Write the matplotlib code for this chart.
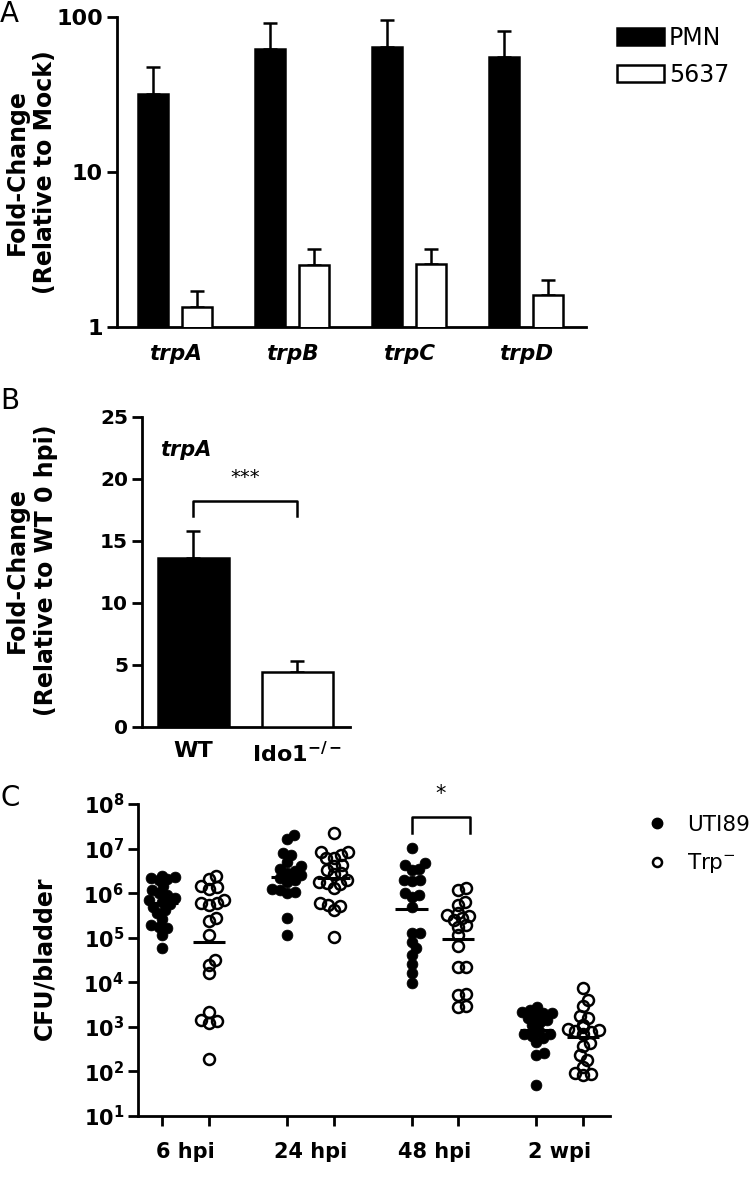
import matplotlib
matplotlib.use("Agg")
import matplotlib.pyplot as plt
import numpy as np
from matplotlib.patches import Patch
from matplotlib.lines import Line2D
from matplotlib.ticker import NullLocator

plt.rcParams['font.family'] = ['DejaVu Sans']
plt.rcParams['axes.linewidth'] = 2.0

# ---- Panel A: fold change vs mock (log scale) ----
genes = ['trpA', 'trpB', 'trpC', 'trpD']
pmn_fold = [32, 62, 64, 55]
pmn_err = [15.6, 30, 31, 26]
c5637_fold = [1.35, 2.51, 2.55, 1.61]
c5637_err = [0.36, 0.67, 0.65, 0.39]

# ---- Panel B: trpA, WT vs Ido1-/- ----
b_groups = ['WT', r'Ido1$^{\mathbf{-/-}}$']
b_fold = [13.65, 4.4]
b_err = [2.15, 0.9]

# ---- Panel C: CFU/bladder (log10 values) ----
timepoints = ['6 hpi', '24 hpi', '48 hpi', '2 wpi']
uti89_6hpi = [6.31, 6.38, 6.36, 6.33, 6.30, 6.15, 6.07, 6.00, 5.95, 5.90, 5.85,
              5.80, 5.75, 5.70, 5.62, 5.55, 5.41, 5.25, 5.21, 5.29, 5.06, 4.78]
trp_6hpi = [6.31, 6.385, 6.13, 6.16, 6.10, 5.79, 5.73, 5.77, 5.85, 5.38, 5.44,
            5.06, 4.50, 4.39, 4.20, 3.34, 3.13, 3.09, 3.15, 2.29]
uti89_24hpi = [7.30, 7.21, 6.89, 6.86, 6.70, 6.60, 6.55, 6.50, 6.45, 6.40, 6.35,
               6.30, 6.25, 6.03, 6.00, 6.07, 6.10, 5.44, 5.06]
trp_24hpi = [7.36, 6.93, 6.93, 6.85, 6.78, 6.78, 6.63, 6.60, 6.52, 6.45, 6.42,
             6.30, 6.25, 6.22, 6.20, 6.11, 5.77, 5.74, 5.71, 5.62, 5.02]
uti89_48hpi = [7.01, 6.68, 6.63, 6.55, 6.52, 6.30, 6.30, 6.28, 6.01, 5.95, 5.92,
               5.70, 5.10, 5.10, 4.91, 4.76, 4.61, 4.40, 4.20, 3.98]
trp_48hpi = [6.07, 6.11, 5.81, 5.73, 5.55, 5.50, 5.48, 5.45, 5.40, 5.29, 5.25,
             5.06, 4.81, 4.35, 4.35, 3.71, 3.74, 3.47, 3.45]
uti89_2wpi = [3.45, 3.38, 3.33, 3.30, 3.30, 3.25, 3.20, 3.15, 3.10, 3.05, 2.90,
              2.85, 2.90, 2.85, 2.80, 2.75, 2.65, 2.41, 2.37, 1.70]
trp_2wpi = [3.87, 3.60, 3.47, 3.24, 3.19, 3.05, 3.00, 2.95, 2.93, 2.90, 2.88,
            2.85, 2.63, 2.56, 2.37, 2.26, 1.96, 1.94, 1.92, 2.10]
uti89_log = [uti89_6hpi, uti89_24hpi, uti89_48hpi, uti89_2wpi]
trp_log = [trp_6hpi, trp_24hpi, trp_48hpi, trp_2wpi]


def swarm(ypix, d, maxw):
    # simple beeswarm in pixel units, returns x offsets (clipped to +-maxw)
    order = np.argsort(ypix)
    xs = np.zeros(len(ypix))
    placed = []
    for i in order:
        y = ypix[i]
        near = [(px, py) for px, py in placed if abs(py - y) < d]
        cands = [0.0]
        for px, py in near:
            dx = np.sqrt(d * d - (py - y) ** 2)
            cands += [px + dx, px - dx]
        cands.sort(key=abs)
        xs[i] = 0.0
        for c in cands:
            if abs(c) > maxw:
                break
            if all((c - px) ** 2 + (y - py) ** 2 >= d * d - 1e-6 for px, py in near):
                xs[i] = c
                break
        placed.append((xs[i], y))
    return xs


W, H = 756, 1199
fig = plt.figure(figsize=(W / 100, H / 100), dpi=100)

# Panel A
axA = fig.add_axes([117 / W, 1 - 327 / H, 469 / W, 310 / H])
axA.set_yscale('log')
x = np.arange(len(genes))
off, bw = 0.188, 0.256
axA.bar(x - off, pmn_fold, bw, color='black', edgecolor='black', lw=1.8, zorder=3)
axA.bar(x + off, c5637_fold, bw, color='white', edgecolor='black', lw=1.8, zorder=3)
axA.errorbar(x - off, pmn_fold, yerr=[np.zeros(4), pmn_err], fmt='none', ecolor='black',
             elinewidth=1.8, capsize=5, capthick=1.8, zorder=2)
axA.errorbar(x + off, c5637_fold, yerr=[np.zeros(4), c5637_err], fmt='none', ecolor='black',
             elinewidth=1.8, capsize=5, capthick=1.8, zorder=2)
axA.set_ylim(1, 100)
axA.set_xlim(-0.496, 3.51)
axA.set_yticks([1, 10, 100], ['1', '10', '100'], fontsize=16, fontweight='bold')
axA.yaxis.set_minor_locator(NullLocator())
axA.set_xticks(x, genes, fontsize=15.5, fontweight='bold', fontstyle='italic')
axA.tick_params(axis='x', length=0, pad=12)
axA.tick_params(axis='y', length=7, width=2, pad=3)
for s in ['top', 'right']:
    axA.spines[s].set_visible(False)
fig.text(31 / W, 1 - 172 / H, 'Fold-Change\n(Relative to Mock)', rotation=90, ha='center',
         va='center', fontsize=17, fontweight='bold', linespacing=1.25, multialignment='center')
fig.legend(handles=[Patch(facecolor='black', edgecolor='black', lw=1.8),
                    Patch(facecolor='white', edgecolor='black', lw=1.8)],
           labels=['PMN', '5637'], loc='upper left', bbox_to_anchor=(617 / W, 1 - 26 / H),
           frameon=False, fontsize=17, handlelength=2.0, handleheight=0.72,
           handletextpad=0.2, labelspacing=0.55, borderpad=0, borderaxespad=0)

# Panel B
axB = fig.add_axes([142 / W, 1 - 727 / H, 208 / W, 310.3 / H])
xb = np.arange(len(b_groups))
axB.bar(xb, b_fold, 0.69, color=['black', 'white'], edgecolor='black', lw=1.8, zorder=3)
axB.errorbar(xb, b_fold, yerr=[np.zeros(2), b_err], fmt='none', ecolor='black',
             elinewidth=1.8, capsize=5, capthick=1.8, zorder=2)
axB.set_ylim(0, 25)
axB.set_xlim(-0.495, 1.505)
axB.set_yticks(np.arange(0, 26, 5), [str(v) for v in range(0, 26, 5)], fontsize=14.5, fontweight='bold')
axB.set_xticks(xb, b_groups, fontsize=16, fontweight='bold')
axB.tick_params(axis='x', length=0, pad=10)
axB.tick_params(axis='y', length=7, width=2, pad=3)
for s in ['top', 'right']:
    axB.spines[s].set_visible(False)
axB.plot([0, 0, 1, 1], [17.0, 18.2, 18.2, 17.0], color='black', lw=1.8)
axB.text(0.5, 19.3, '***', ha='center', va='bottom', fontsize=14)
axB.text(0.087, 0.893, 'trpA', transform=axB.transAxes, ha='left', va='center',
         fontsize=15, fontweight='bold', fontstyle='italic')
fig.text(31.5 / W, 1 - 570 / H, 'Fold-Change\n(Relative to WT 0 hpi)', rotation=90, ha='center',
         va='center', fontsize=17, fontweight='bold', linespacing=1.25, multialignment='center')

# Panel C
axC = fig.add_axes([138 / W, 1 - 1116 / H, (610 - 138) / W, 312 / H])
axC.set_yscale('log')
axC.set_ylim(10, 1e8)
axC.set_xlim(-0.381, 3.404)
centers = np.arange(len(timepoints))
coff = 0.187
ppu = axC.transData.transform([[1, 1]])[0, 0] - axC.transData.transform([[0, 1]])[0, 0]
cols = []
for i in range(len(timepoints)):
    for vals, xc, filled in [(uti89_log[i], centers[i] - coff, True),
                             (trp_log[i], centers[i] + coff, False)]:
        v = np.array(vals)
        ypix = axC.transData.transform(np.column_stack([np.full(len(v), xc), 10 ** v]))[:, 1]
        xs = xc + swarm(ypix, 8.0, 18) / ppu
        if filled:
            axC.plot(xs, 10 ** v, 'o', ms=7.8, mfc='black', mec='black', mew=0.5,
                     ls='none', clip_on=False, zorder=3)
        else:
            axC.plot(xs, 10 ** v, 'o', ms=7.9, mfc='none', mec='black', mew=1.8,
                     ls='none', clip_on=False, zorder=3)
        axC.hlines(10 ** v.mean(), xc - 0.13, xc + 0.13, color='black', lw=2.2, zorder=4)
        cols.append(xc)

axC.set_yticks([10.0 ** k for k in range(1, 9)],
               [r'$\mathbf{10^{%d}}$' % k for k in range(1, 9)], fontsize=15)
axC.yaxis.set_minor_locator(NullLocator())
axC.set_xticks(cols, [''] * len(cols))
axC.set_xticks(centers, timepoints, minor=True, fontsize=15, fontweight='bold')
axC.tick_params(axis='x', which='major', length=7, width=2)
axC.tick_params(axis='x', which='minor', length=0, pad=19)
axC.tick_params(axis='y', length=7, width=2, pad=3)
for s in ['top', 'right']:
    axC.spines[s].set_visible(False)
fig.text(44 / W, 1 - 958 / H, 'CFU/bladder', rotation=90, ha='center', va='center',
         fontsize=17, fontweight='bold')

# significance bracket at 48 hpi
bl, br = 2 - coff, 2 + 0.28
axC.plot([bl, bl, br, br], [10 ** 7.35, 10 ** 7.71, 10 ** 7.71, 10 ** 7.35], color='black',
         lw=1.8, clip_on=False)
axC.text((bl + br) / 2, 10 ** 8.0, '*', ha='center', va='bottom', fontsize=15)

fig.legend(handles=[Line2D([], [], marker='o', ls='none', ms=7.5, mfc='black', mec='black'),
                    Line2D([], [], marker='o', ls='none', ms=6.5, mfc='none', mec='black', mew=1.8)],
           labels=['UTI89', 'Trp$^{-}$'], loc='upper left', bbox_to_anchor=(646 / W, 1 - 815 / H),
           frameon=False, fontsize=15.5, handlelength=1.0, handletextpad=0.9,
           labelspacing=0.75, borderpad=0, borderaxespad=0)

# panel letters
fig.text(0.0, 1 - 14 / H, 'A', fontsize=20, ha='left', va='center')
fig.text(0.0, 1 - 401 / H, 'B', fontsize=20, ha='left', va='center')
fig.text(0.0, 1 - 798 / H, 'C', fontsize=20, ha='left', va='center')

fig.savefig('out.png', dpi=100)
